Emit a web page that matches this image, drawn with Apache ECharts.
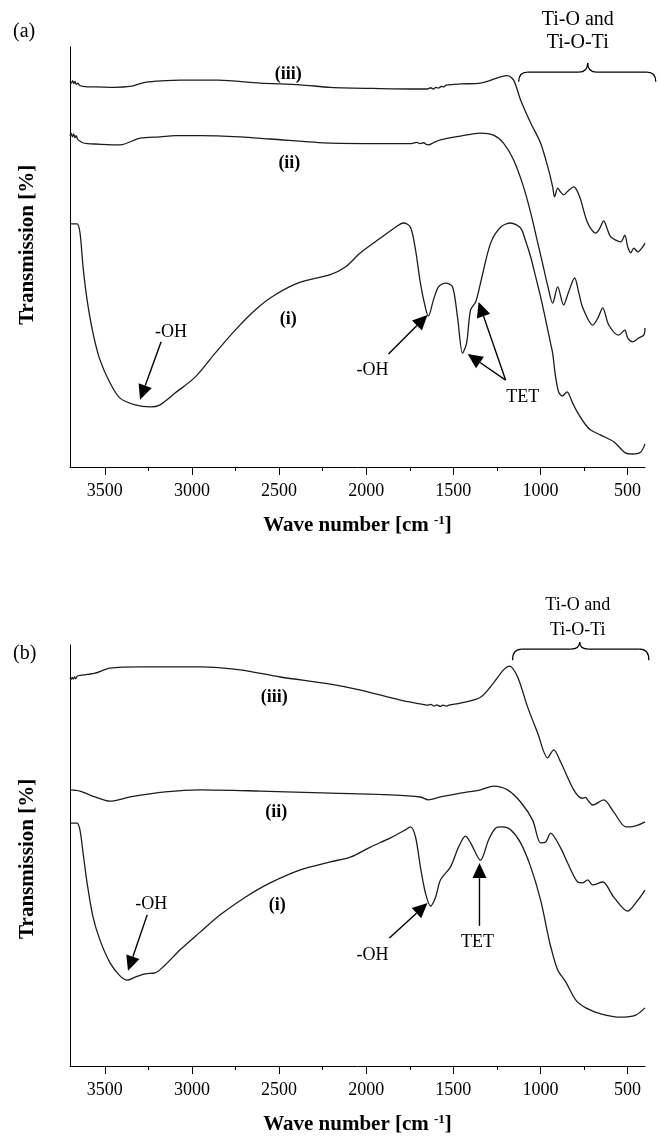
<!DOCTYPE html>
<html><head><meta charset="utf-8">
<script src="https://cdn.jsdelivr.net/npm/echarts@6/dist/echarts.min.js"></script>
<style>html,body{margin:0;padding:0;background:#fff}#c{width:660px;height:1138px}</style>
</head><body><div id="c"></div>
<script>
// Tick labels (wave number, cm-1)
const tickValues = [500, 1000, 1500, 2000, 2500, 3000, 3500];
const minorTickValues = [750, 1250, 1750, 2250, 2750, 3250];

// Panel (a) spectra: [wave number, transmission (arb.)]
const aIII = [[3700,91.8],[3692,91.4],[3685,92.0],[3678,91.3],[3671,91.8],[3664,91.1],[3656,91.4],[3645,90.9],[3625,90.6],[3600,90.5],[3556,90.5],[3450,90.4],[3355,90.6],[3269,91.6],[3150,92.0],[3068,92.1],[2849,92.1],[2608,91.4],[2378,91.0],[2206,90.4],[1918,90.1],[1700,90.0],[1650,90.0],[1630,90.3],[1615,90.0],[1600,90.4],[1585,90.2],[1570,90.6],[1555,90.5],[1540,90.9],[1459,91.2],[1344,91.4],[1229,92.9],[1189,93.2],[1154,92.1],[1114,87.4],[1056,81.9],[999,77.1],[953,70.7],[930,66.7],[919,64.3],[901,66.4],[885,65.5],[867,64.8],[840,65.8],[809,66.7],[790,65.8],[769,63.6],[729,58.1],[683,55.7],[660,56.8],[637,58.6],[615,56.5],[597,54.8],[539,53.6],[516,55.2],[499,52.4],[482,51.0],[464,52.1],[441,51.2],[413,52.4],[400,53.3]];
const aII = [[3700,78.8],[3693,79.4],[3686,78.6],[3679,79.3],[3672,78.4],[3665,78.9],[3657,78.1],[3647,77.7],[3628,77.2],[3600,77.0],[3556,76.9],[3413,76.7],[3298,78.3],[3183,78.6],[3097,78.9],[2953,78.9],[2723,78.6],[2551,78.1],[2206,77.1],[1918,77.0],[1740,77.0],[1710,77.3],[1690,77.0],[1670,77.2],[1655,76.8],[1643,76.7],[1610,77.3],[1574,77.9],[1459,78.8],[1344,79.5],[1269,79.0],[1212,77.1],[1154,73.1],[1097,66.7],[1056,60.5],[1010,52.4],[982,47.4],[959,43.3],[930,39.0],[901,42.9],[867,38.6],[840,41.5],[804,45.0],[780,41.5],[757,37.9],[700,33.8],[670,35.5],[643,37.9],[608,33.8],[551,31.4],[516,32.6],[499,30.7],[470,29.8],[436,30.7],[407,31.4],[400,33.1]];
const aI = [[3700,57.9],[3660,57.9],[3643,55.9],[3625,47.6],[3602,39.8],[3568,31.9],[3528,25.5],[3470,20.0],[3413,16.4],[3326,14.8],[3240,14.3],[3183,14.8],[3097,17.6],[2982,21.4],[2867,27.1],[2752,32.6],[2637,37.4],[2522,41.0],[2378,44.0],[2206,45.8],[2120,47.6],[2033,51.0],[1918,54.5],[1832,57.1],[1786,58.1],[1746,57.1],[1717,51.7],[1689,43.8],[1660,37.9],[1643,35.9],[1614,39.8],[1585,42.9],[1545,43.8],[1505,42.9],[1476,35.7],[1447,27.1],[1424,29.5],[1401,37.4],[1372,39.3],[1344,43.8],[1286,53.3],[1229,57.1],[1171,58.1],[1114,56.9],[1085,53.8],[1056,50.0],[1027,45.2],[999,40.5],[970,35.0],[942,29.5],[930,27.1],[913,21.4],[895,17.8],[875,16.9],[848,17.9],[815,15.2],[786,12.9],[740,10.0],[712,8.8],[654,7.6],[579,6.0],[510,3.3],[470,3.1],[424,3.6],[400,5.5]];

// Panel (b) spectra
const bIII = [[3700,92.2],[3694,91.8],[3688,92.3],[3681,91.9],[3674,92.4],[3667,92.0],[3658,92.6],[3640,92.8],[3600,93.0],[3556,93.3],[3470,94.5],[3298,94.8],[2953,94.8],[2723,94.1],[2493,92.4],[2206,90.7],[2033,89.3],[1804,86.9],[1689,86.0],[1650,85.7],[1630,85.9],[1610,85.5],[1595,85.8],[1575,85.4],[1560,85.7],[1540,85.5],[1520,85.8],[1459,86.2],[1344,87.6],[1269,91.0],[1212,94.1],[1177,95.0],[1131,92.4],[1074,85.3],[1016,79.1],[959,73.2],[924,75.1],[884,72.2],[809,65.6],[760,63.6],[740,63.8],[729,63.2],[700,62.0],[637,63.2],[579,60.3],[510,56.8],[482,56.8],[441,57.2],[400,58.0]];
const bII = [[3700,65.6],[3643,65.3],[3556,63.9],[3470,62.9],[3355,63.9],[3154,65.1],[2953,65.6],[2608,65.3],[2206,64.8],[1861,64.4],[1689,63.9],[1643,63.2],[1574,63.9],[1459,64.8],[1344,65.6],[1269,66.5],[1189,65.6],[1114,62.7],[1045,58.4],[999,53.0],[970,53.2],[942,55.3],[884,51.8],[844,48.2],[786,43.7],[757,43.5],[729,44.2],[700,43.0],[643,43.7],[579,40.1],[499,36.8],[441,39.4],[400,41.8]];
const bI = [[3700,57.7],[3660,57.7],[3643,56.1],[3625,50.6],[3602,43.5],[3568,35.4],[3528,29.9],[3470,24.5],[3413,21.4],[3372,20.4],[3326,21.1],[3269,21.9],[3212,22.1],[3154,24.0],[3068,27.6],[2953,31.8],[2838,35.9],[2694,40.1],[2551,43.5],[2378,46.6],[2206,48.5],[2091,49.6],[1976,52.0],[1861,54.2],[1775,56.1],[1746,56.8],[1717,54.4],[1689,47.3],[1660,41.1],[1631,38.0],[1602,40.1],[1574,44.2],[1516,47.3],[1470,52.0],[1430,54.6],[1401,53.0],[1344,48.9],[1298,53.7],[1258,56.5],[1217,56.8],[1171,56.1],[1114,53.0],[1056,47.3],[999,39.4],[959,31.6],[942,28.5],[901,22.8],[855,20.0],[798,15.7],[740,13.8],[654,12.4],[539,11.6],[453,12.1],[400,13.8]];

const SERIF = "'Liberation Serif','Times New Roman',serif";
const chart = echarts.init(document.getElementById('c'), null, {renderer: 'canvas'});

function xMajor(gi) {
  return {
    gridIndex: gi, type: 'value', min: 400, max: 3700, inverse: true, position: 'bottom',
    axisLine: {show: true, onZero: false, lineStyle: {color: '#000', width: 1}},
    axisTick: {show: true, length: 8, customValues: tickValues, lineStyle: {color: '#000', width: 1}},
    axisLabel: {show: true, customValues: tickValues, color: '#000', fontFamily: SERIF, fontSize: 18, margin: 15,
      formatter: function (v) { return String(v); }},
    splitLine: {show: false},
    name: '{t|Wave number [cm }{s|-1}{t|]}',
    nameLocation: 'middle', nameGap: 47,
    nameTextStyle: {
      rich: {
        t: {fontFamily: SERIF, fontWeight: 'bold', fontSize: 21, color: '#000', lineHeight: 24},
        s: {fontFamily: SERIF, fontWeight: 'bold', fontSize: 13, color: '#000', verticalAlign: 'top', lineHeight: 24, padding: [0, 0, 10, 0]}
      }
    }
  };
}
function xMinor(gi) {
  return {
    gridIndex: gi, type: 'value', min: 400, max: 3700, inverse: true, position: 'bottom',
    axisLine: {show: false}, axisLabel: {show: false}, splitLine: {show: false},
    axisTick: {show: true, length: 4, customValues: minorTickValues, lineStyle: {color: '#000', width: 1}}
  };
}
function yAx(gi) {
  return {
    gridIndex: gi, type: 'value', min: 0, max: 100,
    axisLine: {show: true, lineStyle: {color: '#000', width: 1}},
    axisTick: {show: false}, axisLabel: {show: false}, splitLine: {show: false}
  };
}
function ser(data, gi) {
  return {type: 'line', xAxisIndex: gi * 2, yAxisIndex: gi, data: data, showSymbol: false,
    smooth: 0.3, silent: true, lineStyle: {color: '#1c1c1c', width: 1.3}};
}

chart.setOption({
  animation: false,
  backgroundColor: '#fff',
  grid: [
    {left: 70, top: 47, width: 575, height: 420},
    {left: 70, top: 645, width: 575, height: 421}
  ],
  xAxis: [xMajor(0), xMinor(0), xMajor(1), xMinor(1)],
  yAxis: [yAx(0), yAx(1)],
  series: [ser(aIII, 0), ser(aII, 0), ser(aI, 0), ser(bIII, 1), ser(bII, 1), ser(bI, 1)]
});

// ---- annotations (positions in data coordinates) ----
const labelsA = [
  {t: '(iii)', p: [2447, 93.6], bold: true}, {t: '(ii)', p: [2441, 72.4], bold: true}, {t: '(i)', p: [2447, 35.2], bold: true},
  {t: '-OH', p: [3120, 32.1]}, {t: '-OH', p: [1964, 23.1]}, {t: 'TET', p: [1102, 16.7]},
  {t: 'Ti-O and', p: [786, 106.4], size: 20}, {t: 'Ti-O-Ti', p: [786, 101.0], size: 20}
];
const arrowsA = [
  [[3177, 29.8], [3298, 16.0]], [[1872, 26.9], [1648, 36.2]],
  [[1200, 20.7], [1418, 26.9]], [[1200, 20.7], [1355, 39.3]]
];
const braceA = {l: 1125, c: 729, r: 338, yb: 91.7, yh: 94.0, yt: 96.2};

const labelsB = [
  {t: '(iii)', p: [2528, 87.6], bold: true}, {t: '(ii)', p: [2516, 60.3], bold: true}, {t: '(i)', p: [2510, 38.2], bold: true},
  {t: '-OH', p: [3234, 38.5]}, {t: '-OH', p: [1964, 26.4]}, {t: 'TET', p: [1361, 29.5]},
  {t: 'Ti-O and', p: [786, 109.5], size: 18}, {t: 'Ti-O-Ti', p: [786, 103.6], size: 18}
];
const arrowsB = [
  [[3257, 35.9], [3367, 22.6]], [[1867, 30.4], [1648, 38.7]], [[1350, 33.3], [1350, 48.2]]
];
const braceB = {l: 1160, c: 775, r: 378, yb: 96.4, yh: 99.0, yt: 100.7};

// y-axis titles: [grid index, centre value]
const yTitles = [[0, 52.9], [1, 49.2]];

const graphics = [];
function px(gi, p) { return chart.convertToPixel({gridIndex: gi}, p); }
function addLabels(gi, arr) {
  arr.forEach(function (o) {
    const q = px(gi, o.p);
    const size = o.size || 18;
    graphics.push({type: 'text', x: q[0], y: q[1], silent: true,
      style: {text: o.t, font: (o.bold ? 'bold ' : '') + size + 'px ' + SERIF, fill: '#000',
        textAlign: 'center', textVerticalAlign: 'middle', align: 'center', verticalAlign: 'middle'}});
  });
}
function addArrows(gi, arr) {
  arr.forEach(function (a) {
    const s = px(gi, a[0]), e = px(gi, a[1]);
    const dx = e[0] - s[0], dy = e[1] - s[1], L = Math.sqrt(dx * dx + dy * dy);
    const ux = dx / L, uy = dy / L, hl = 15, hw = 7;
    const bx = e[0] - ux * hl, by = e[1] - uy * hl;
    graphics.push({type: 'line', silent: true, shape: {x1: s[0], y1: s[1], x2: bx, y2: by},
      style: {stroke: '#000', lineWidth: 1.4}});
    graphics.push({type: 'polygon', silent: true,
      shape: {points: [[e[0], e[1]], [bx - uy * hw, by + ux * hw], [bx + uy * hw, by - ux * hw]]},
      style: {fill: '#000'}});
  });
}
function addBrace(gi, b) {
  const L = px(gi, [b.l, b.yb]), C = px(gi, [b.c, b.yt]), R = px(gi, [b.r, b.yb]);
  const yh = px(gi, [b.c, b.yh])[1];
  const r = 9, st = {stroke: '#000', lineWidth: 1.3, fill: null};
  graphics.push({type: 'bezierCurve', silent: true, shape: {x1: L[0], y1: L[1], x2: L[0] + r, y2: yh, cpx1: L[0], cpy1: yh}, style: st});
  graphics.push({type: 'line', silent: true, shape: {x1: L[0] + r, y1: yh, x2: C[0] - r, y2: yh}, style: st});
  graphics.push({type: 'bezierCurve', silent: true, shape: {x1: C[0] - r, y1: yh, x2: C[0], y2: C[1], cpx1: C[0], cpy1: yh}, style: st});
  graphics.push({type: 'bezierCurve', silent: true, shape: {x1: C[0], y1: C[1], x2: C[0] + r, y2: yh, cpx1: C[0], cpy1: yh}, style: st});
  graphics.push({type: 'line', silent: true, shape: {x1: C[0] + r, y1: yh, x2: R[0] - r, y2: yh}, style: st});
  graphics.push({type: 'bezierCurve', silent: true, shape: {x1: R[0] - r, y1: yh, x2: R[0], y2: R[1], cpx1: R[0], cpy1: yh}, style: st});
}
addLabels(0, labelsA); addArrows(0, arrowsA); addBrace(0, braceA);
addLabels(1, labelsB); addArrows(1, arrowsB); addBrace(1, braceB);
yTitles.forEach(function (t) {
  const q = px(t[0], [3700, t[1]]);
  graphics.push({type: 'text', x: 28, y: q[1], rotation: Math.PI / 2, silent: true,
    style: {text: 'Transmission [%]', font: 'bold 21px ' + SERIF, fill: '#000',
      textAlign: 'center', textVerticalAlign: 'middle', align: 'center', verticalAlign: 'middle'}});
});
graphics.push({type: 'text', left: 13, top: 22, silent: true, style: {text: '(a)', font: '20px ' + SERIF, fill: '#000'}});
graphics.push({type: 'text', left: 13, top: 644, silent: true, style: {text: '(b)', font: '20px ' + SERIF, fill: '#000'}});
chart.setOption({graphic: {elements: graphics}});
</script></body></html>
